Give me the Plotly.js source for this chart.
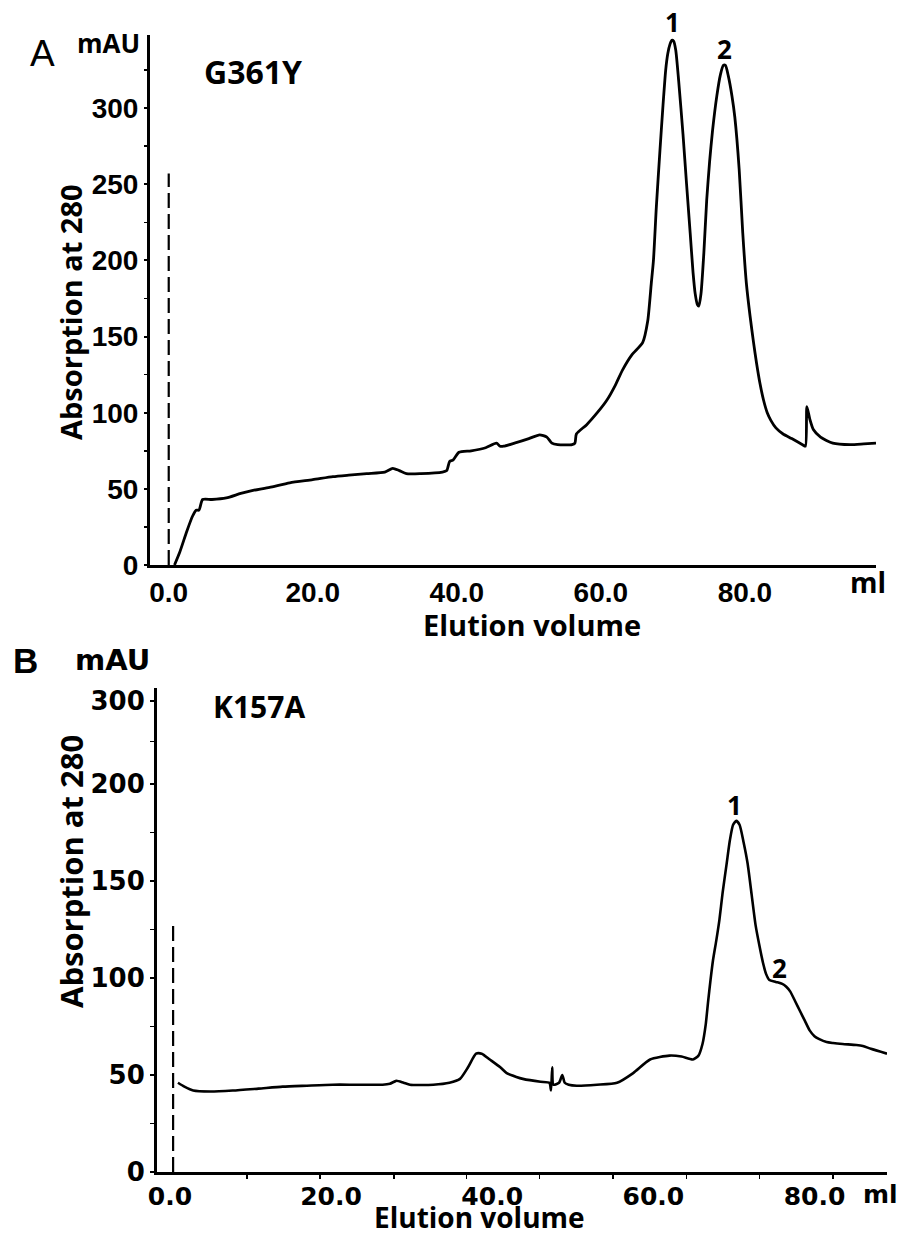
<!DOCTYPE html>
<html>
<head>
<meta charset="utf-8">
<script src="https://cdn.plot.ly/plotly-3.0.1.min.js"></script>
<style>html,body{margin:0;padding:0;background:#fff;}#chart{width:900px;height:1238px;}</style>
</head>
<body>
<div id="chart"></div>
<script>
// ---- Panel A : G361Y ----
const volA = [0.8, 1.5, 2.5, 3.3, 3.8, 4.2, 4.7, 6, 8, 10, 11.7, 14, 16.8, 20, 22.8, 25, 27.5, 30, 31.1, 32, 33, 35, 38, 38.6, 39.0, 39.5, 40.3, 42, 44, 45.5, 46, 46.5, 48, 50, 51.5, 52.5, 53.2, 54, 56, 56.4, 56.6, 58, 59.5, 60.8, 62, 63, 64.3, 65.8, 66.5, 67.0, 67.3, 67.7, 68.2, 68.6, 69.0, 69.3, 69.6, 69.85, 70.1, 70.4, 70.8, 71.4, 71.9, 72.4, 72.8, 73.1, 73.4, 73.6, 73.9, 74.3, 74.7, 75.1, 75.5, 76.1, 76.6, 77.0, 77.3, 77.7, 78.2, 78.6, 79.2, 79.7, 80.2, 80.7, 81.2, 81.6, 82.1, 82.6, 83.1, 83.6, 84.3, 85.3, 86.5, 88, 88.4, 88.6, 89, 89.5, 90.5, 92.2, 94.6, 96.5, 98.2];
const absA = [0, 8, 22, 32, 36, 36, 43, 43, 44, 47, 49, 51, 54, 56, 58, 59, 60, 61, 63.5, 62, 60, 60, 61, 62, 68, 69, 74, 75, 77, 80, 78, 78, 80, 83, 85.5, 84, 80, 79, 79, 80, 86, 92, 100, 108, 118, 128, 138, 146, 160, 185, 200, 235, 272, 300, 325, 336, 342, 344.5, 344, 338, 318, 283, 250, 218, 192, 178, 171, 170, 178, 205, 240, 265, 285, 308, 322, 328, 328, 321, 308, 294, 260, 218, 185, 164, 146, 133, 119, 108, 100, 95, 90, 86, 83, 79, 78, 104, 96, 89, 84, 80, 79, 79.5, 80];
const injA = {vol: [0, 0], abs: [0, 257]};
const peakLabelsA = {text: ['1', '2'], vol: [69.9, 77.2], abs: [344.5, 328]};

// ---- Panel B : K157A ----
const volB = [1.0, 1.8, 2.9, 5, 7.8, 11, 14, 17, 20.2, 23, 26.4, 27.3, 28.1, 29, 29.8, 32.7, 34.7, 36, 37, 38, 38.7, 39.7, 41, 41.8, 43, 43.8, 46, 47.1, 47.3, 47.45, 47.6, 48.3, 48.7, 49.0, 49.5, 50.5, 53, 55.5, 57.5, 59.6, 62, 63.5, 64.9, 65.6, 66.1, 66.5, 66.8, 67.1, 67.4, 67.8, 68.2, 68.6, 69.1, 69.5, 69.9, 70.3, 70.7, 71.2, 71.7, 72.2, 72.7, 73.2, 73.6, 74.0, 74.4, 75.2, 76.0, 76.5, 77.0, 77.6, 78.2, 78.8, 79.4, 80.0, 80.6, 81.5, 82.3, 83.5, 85.2, 86, 87, 89];
const absB = [46, 44, 42, 41.5, 42, 43, 44, 44.5, 45, 45, 45, 45.5, 47, 46, 45, 45, 46, 48, 54, 61, 61, 58, 54, 51, 49, 48, 46.5, 46, 42, 54, 45, 46, 50, 46, 45, 44.5, 45, 46, 51, 58, 60, 59.5, 58, 60, 66, 76, 88, 99, 109, 119, 130, 144, 159, 171, 179, 181, 179, 170, 159, 143, 127, 116, 108, 102, 99, 98, 97, 95.5, 93, 88, 83, 78, 73, 70, 68.5, 67, 66.5, 66, 65.5, 65, 63.5, 61];
const injB = {vol: [0.4, 0.4], abs: [0, 127]};
const peakLabelsB = {text: ['1', '2'], vol: [70.1, 75.7], abs: [181, 97]};

// tick labels
const xTickVals = [0, 20, 40, 60, 80];
const xTickText = ['0.0', '20.0', '40.0', '60.0', '80.0'];
const yTickValsA = [0, 50, 100, 150, 200, 250, 300];
const yTickTextA = ['0', '50', '100', '150', '200', '250', '300'];
const yTickValsB = [0, 50, 100, 150, 200, 243];
const yTickTextB = ['0', '50', '100', '150', '200', '300'];
const yMinorB = [25, 75, 125, 175, 222];
const xMinorB = [9.55, 18.6, 27.8, 36.8, 45.9, 55, 64.1, 73.2, 82.3];

const W = 900, H = 1238;
const px = v => v / W;
const py = v => 1 - v / H;

const lineStyle = {color: '#000', width: 2.8, shape: 'spline', smoothing: 0.6};
const dashStyle = {color: '#000', width: 2.2, dash: '15px,6px'};

const traces = [
  {x: volA, y: absA, type: 'scatter', mode: 'lines', line: lineStyle, xaxis: 'x', yaxis: 'y', hoverinfo: 'skip'},
  {x: injA.vol, y: injA.abs, type: 'scatter', mode: 'lines', line: dashStyle, xaxis: 'x', yaxis: 'y', hoverinfo: 'skip'},
  {x: volB, y: absB, type: 'scatter', mode: 'lines', line: {color: '#000', width: 2.6, shape: 'spline', smoothing: 0.6}, xaxis: 'x2', yaxis: 'y2', hoverinfo: 'skip'},
  {x: injB.vol, y: injB.abs, type: 'scatter', mode: 'lines', line: dashStyle, xaxis: 'x2', yaxis: 'y2', hoverinfo: 'skip'}
];

const fontA = {family: 'Liberation Sans, Arial, sans-serif', size: 28, weight: 700, color: '#000'};
const fontB = {family: 'DejaVu Sans, sans-serif', size: 25, weight: 700, color: '#000'};
const titleFont = {family: 'Open Sans, sans-serif', size: 29, weight: 700, color: '#000'};

const annotations = [];
function ann(text, x, y, font, extra) {
  annotations.push(Object.assign({text: text, x: px(x), y: py(y), xref: 'paper', yref: 'paper',
    xanchor: 'center', yanchor: 'middle', showarrow: false, font: font}, extra || {}));
}
// Panel A texts
ann('A', 42, 53, {family: 'Liberation Sans, Arial, sans-serif', size: 37, color: '#000'});
ann('mAU', 108, 43, {family: 'Open Sans, sans-serif', size: 26, weight: 700, color: '#000'});
ann('G361Y', 253, 71, {family: 'Open Sans, sans-serif', size: 32, weight: 700, color: '#000'});
ann('Absorption at 280', 71, 312, titleFont, {textangle: -90});
ann('Elution volume', 532, 624, titleFont);
ann('ml', 868, 582, {family: 'Open Sans, sans-serif', size: 28, weight: 700, color: '#000'});
// Panel B texts
ann('B', 25, 660, {family: 'Liberation Sans, Arial, sans-serif', size: 35, weight: 700, color: '#000'});
ann('mAU', 112, 660, {family: 'DejaVu Sans, sans-serif', size: 29, weight: 700, color: '#000'});
ann('K157A', 259, 706, {family: 'Open Sans, sans-serif', size: 30, weight: 700, color: '#000'});
ann('Absorption at 280', 71, 872, Object.assign({}, titleFont, {size: 31}), {textangle: -90});
ann('Elution volume', 479, 1238, Object.assign({}, titleFont, {size: 28}), {yanchor: 'bottom'});
ann('ml', 880, 1194, fontB);

// peak labels in data coordinates, shifted above the peak tops
const peakFont = {family: 'Open Sans, sans-serif', size: 26, weight: 700, color: '#000'};
peakLabelsA.text.forEach((t, i) => annotations.push({text: t, x: peakLabelsA.vol[i], y: peakLabelsA.abs[i],
  xref: 'x', yref: 'y', showarrow: false, xanchor: 'center', yanchor: 'middle', yshift: i === 0 ? 18 : 16,
  font: peakFont}));
peakLabelsB.text.forEach((t, i) => annotations.push({text: t, x: peakLabelsB.vol[i], y: peakLabelsB.abs[i],
  xref: 'x2', yref: 'y2', showarrow: false, xanchor: 'center', yanchor: 'middle', yshift: 16,
  font: peakFont}));

const baseAxis = {showgrid: false, zeroline: false, showline: true, linecolor: '#000', linewidth: 3, mirror: false, fixedrange: true};

const layout = {
  width: W, height: H,
  margin: {l: 0, r: 0, t: 0, b: 0, pad: 0},
  paper_bgcolor: '#fff', plot_bgcolor: '#fff',
  showlegend: false,
  xaxis: Object.assign({}, baseAxis, {
    domain: [px(150), px(876)], range: [-2.6, 98.2], anchor: 'y',
    tickmode: 'array', tickvals: xTickVals, ticktext: xTickText, ticks: '', tickfont: fontA
  }),
  yaxis: Object.assign({}, baseAxis, {
    domain: [py(565), py(35)], range: [0, 348], anchor: 'x',
    tickmode: 'array', tickvals: yTickValsA, ticktext: yTickTextA,
    ticks: 'outside', ticklen: 3, tickwidth: 2, tickcolor: '#000', tickfont: fontA,
    minor: {dtick: 25, ticks: 'outside', ticklen: 3, tickwidth: 1.5, tickcolor: '#000', showgrid: false}
  }),
  xaxis2: Object.assign({}, baseAxis, {
    domain: [px(157), px(887)], range: [-1.6, 89], anchor: 'y2',
    tickmode: 'array', tickvals: xTickVals, ticktext: xTickText, ticks: 'outside', ticklen: 0, tickfont: fontB,
    minor: {tickvals: xMinorB, ticks: 'outside', ticklen: 4, tickwidth: 1.5, tickcolor: '#000', showgrid: false}
  }),
  yaxis2: Object.assign({}, baseAxis, {
    domain: [py(1172), py(688)], range: [0, 249.5], anchor: 'x2',
    tickmode: 'array', tickvals: yTickValsB, ticktext: yTickTextB,
    ticks: 'outside', ticklen: 4, tickwidth: 2, tickcolor: '#000', tickfont: Object.assign({}, fontB, {size: 26}),
    minor: {tickvals: yMinorB, ticks: 'outside', ticklen: 4, tickwidth: 1.5, tickcolor: '#000', showgrid: false}
  }),
  annotations: annotations
};

Plotly.newPlot('chart', traces, layout, {staticPlot: true, displayModeBar: false});
</script>
</body>
</html>
